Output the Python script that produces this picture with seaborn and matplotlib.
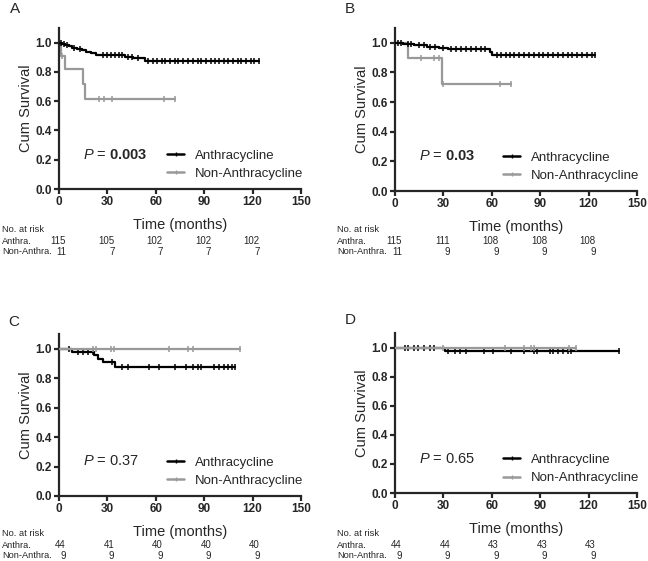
import numpy as np
import pandas as pd
import seaborn as sns
import matplotlib.pyplot as plt
from matplotlib.lines import Line2D

# ---- data ----
# KM step curves: event times (months) and survival after each step; last value = end of follow-up
a_anth_t = [0, 2, 4, 6, 8, 11, 14, 17, 20, 23, 41, 46, 53, 124]
a_anth_s = [1.0, 0.991, 0.983, 0.974, 0.965, 0.957, 0.948, 0.939, 0.930, 0.913, 0.904, 0.895, 0.877, 0.877]
a_anth_c = [1, 3, 5, 9, 13, 27, 30, 32, 35, 37, 39, 43, 45, 49, 55, 58, 61, 64, 66, 69, 72, 74, 77,
            80, 83, 86, 88, 91, 94, 97, 99, 102, 105, 108, 111, 113, 116, 119, 121, 124]
a_non_t = [0, 1, 4, 15, 16, 72]
a_non_s = [1.0, 0.909, 0.818, 0.714, 0.612, 0.612]
a_non_c = [2, 25, 28, 33, 65, 72]

b_anth_t = [0, 5, 12, 20, 27, 33, 59, 60, 124]
b_anth_s = [1.0, 0.991, 0.983, 0.974, 0.965, 0.957, 0.939, 0.921, 0.921]
b_anth_c = [2, 4, 8, 10, 15, 18, 22, 25, 30, 35, 38, 41, 44, 47, 50, 53, 56, 63, 66, 69, 71, 74, 77,
            80, 83, 86, 89, 92, 95, 98, 101, 104, 107, 110, 113, 116, 119, 122, 124]
b_non_t = [0, 8, 29, 72]
b_non_s = [1.0, 0.9, 0.72, 0.72]
b_non_c = [16, 24, 27, 30, 65, 72]

c_anth_t = [0, 8, 22, 24, 27, 35, 109]
c_anth_s = [1.0, 0.977, 0.955, 0.932, 0.909, 0.878, 0.878]
c_anth_c = [6, 12, 15, 18, 21, 33, 39, 43, 56, 62, 72, 79, 83, 86, 88, 96, 99, 102, 105, 107, 109]
c_non_t = [0, 112]
c_non_s = [1.0, 1.0]
c_non_c = [21, 23, 32, 34, 68, 80, 83, 112]

d_anth_t = [0, 31, 139]
d_anth_s = [1.0, 0.977, 0.977]
d_anth_c = [6, 8, 12, 14, 18, 22, 24, 33, 37, 40, 44, 55, 61, 72, 80, 86, 88, 96, 98, 101, 104,
            107, 109, 139]
d_non_t = [0, 112]
d_non_s = [1.0, 1.0]
d_non_c = [30, 68, 80, 84, 86, 108, 112]

p_texts = [r"$\mathit{P}$ = $\mathbf{0.003}$", r"$\mathit{P}$ = $\mathbf{0.03}$",
           r"$\mathit{P}$ = 0.37", r"$\mathit{P}$ = 0.65"]
panel_letters = ["A", "B", "C", "D"]
risk_times = [0, 30, 60, 90, 120]
risk_anth = [[115, 105, 102, 102, 102], [115, 111, 108, 108, 108],
             [44, 41, 40, 40, 40], [44, 44, 43, 43, 43]]
risk_non = [[11, 7, 7, 7, 7], [11, 9, 9, 9, 9], [9, 9, 9, 9, 9], [9, 9, 9, 9, 9]]

curves = [
    (a_anth_t, a_anth_s, a_anth_c, a_non_t, a_non_s, a_non_c),
    (b_anth_t, b_anth_s, b_anth_c, b_non_t, b_non_s, b_non_c),
    (c_anth_t, c_anth_s, c_anth_c, c_non_t, c_non_s, c_non_c),
    (d_anth_t, d_anth_s, d_anth_c, d_non_t, d_non_s, d_non_c),
]

BLACK = "#000000"
GREY = "#999999"

sns.set_style("ticks")
plt.rcParams["font.family"] = ["Liberation Sans", "DejaVu Sans"]
plt.rcParams["mathtext.fontset"] = "custom"
plt.rcParams["mathtext.rm"] = "Liberation Sans"
plt.rcParams["mathtext.it"] = "Liberation Sans:italic"
plt.rcParams["mathtext.bf"] = "Liberation Sans:bold"


def step_value(times, surv, x):
    i = np.searchsorted(times, x, side="right") - 1
    return np.asarray(surv)[i]


def draw_km(ax, t, s, c, color, z):
    df = pd.DataFrame({"time": t, "surv": s})
    sns.lineplot(data=df, x="time", y="surv", ax=ax, color=color, lw=1.6,
                 drawstyle="steps-post", estimator=None, sort=False, zorder=z)
    cdf = pd.DataFrame({"time": c, "surv": step_value(t, s, c)})
    sns.scatterplot(data=cdf, x="time", y="surv", ax=ax, marker="|", s=14,
                    color=color, linewidth=1.1, zorder=z)


fig = plt.figure(figsize=(6.48, 5.61), dpi=100)
W, H = 648, 561
# axes boxes in pixels: left, top, right, bottom
boxes = [(59, 28, 301, 189), (395, 28, 637, 191), (59, 334, 301, 496), (395, 333, 637, 493)]
letter_pos = [(10, 9), (345, 9), (8, 322), (345, 320)]
label_x = [2, 337, 2, 337]
risk_y = [(229, 241, 252), (229, 241, 252), (533, 545, 556), (533, 545, 556)]

for k, (l, t, r, b) in enumerate(boxes):
    ax = fig.add_axes([l / W, 1 - b / H, (r - l) / W, (b - t) / H])
    at, as_, ac, nt, ns, nc = curves[k]
    if k < 2:
        draw_km(ax, nt, ns, nc, GREY, 2)
        draw_km(ax, at, as_, ac, BLACK, 3)
    else:
        draw_km(ax, at, as_, ac, BLACK, 2)
        draw_km(ax, nt, ns, nc, GREY, 3)

    ax.set_xlim(0, 150)
    ax.set_ylim(0, 1.1)
    ax.set_xticks([0, 30, 60, 90, 120, 150])
    ax.set_yticks([0, 0.2, 0.4, 0.6, 0.8, 1.0])
    ax.set_yticklabels(["0.0", "0.2", "0.4", "0.6", "0.8", "1.0"])
    sns.despine(ax=ax)
    for sp in ["left", "bottom"]:
        ax.spines[sp].set_linewidth(1.6)
    ax.tick_params(width=1.6, length=3.5, pad=1.5, labelsize=8.5)
    for lab in ax.get_xticklabels() + ax.get_yticklabels():
        lab.set_fontweight("bold")
    ax.set_xlabel("Time (months)", fontsize=10.5, labelpad=7)
    ax.set_ylabel("Cum Survival", fontsize=10.5, labelpad=2)

    ax.text(15, 0.235, p_texts[k], fontsize=10.5, va="center", ha="left")
    handles = [Line2D([], [], color=BLACK, lw=1.8, marker="|", markersize=3.5),
               Line2D([], [], color=GREY, lw=1.8, marker="|", markersize=3.5)]
    ax.legend(handles, ["Anthracycline", "Non-Anthracycline"], loc="center left",
              bbox_to_anchor=(0.42, 0.15), frameon=False, fontsize=9.5,
              handlelength=1.3, handletextpad=0.8, labelspacing=0.45, borderpad=0)

    fig.text(letter_pos[k][0] / W, 1 - letter_pos[k][1] / H, panel_letters[k], fontsize=11,
             va="center", ha="left")

    # risk table
    names = ["No. at risk", "Anthra.", "Non-Anthra."]
    for name, yy in zip(names, risk_y[k]):
        fig.text(label_x[k] / W, 1 - yy / H, name, fontsize=6.7, va="center", ha="left")
    for x, na, nn in zip(risk_times, risk_anth[k], risk_non[k]):
        xf = fig.transFigure.inverted().transform(ax.transData.transform((x, 0)))[0] + 7 / W
        fig.text(xf, 1 - risk_y[k][1] / H, str(na), fontsize=7, va="center", ha="right")
        fig.text(xf, 1 - risk_y[k][2] / H, str(nn), fontsize=7, va="center", ha="right")

fig.savefig("out.png", dpi=100)
